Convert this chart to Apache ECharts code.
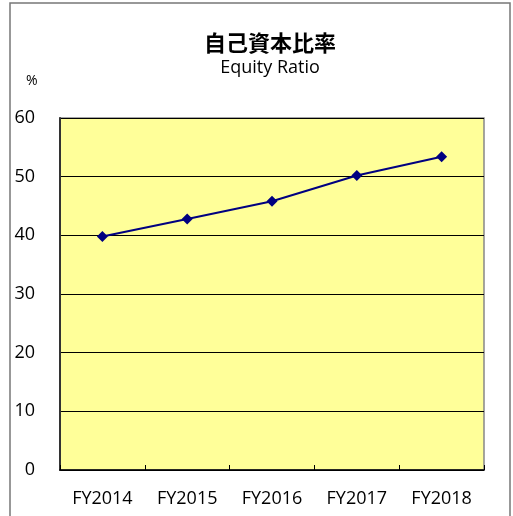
<!DOCTYPE html>
<html>
<head>
<meta charset="utf-8">
<script src="https://cdn.jsdelivr.net/npm/echarts@6/dist/echarts.min.js"></script>
<title>自己資本比率</title>
<style>
  html, body { margin: 0; padding: 0; background: #fff; }
  #main { width: 513px; height: 516px; }
</style>
</head>
<body>
<div id="main"></div>
<script type="text/javascript">
// 年度と自己資本比率(%)
var years = ['FY2014', 'FY2015', 'FY2016', 'FY2017', 'FY2018'];
var equityRatio = [39.8, 42.8, 45.8, 50.2, 53.4];
var yTicks = [0, 10, 20, 30, 40, 50, 60];

var myChart = echarts.init(document.getElementById('main'));
var font = '"Open Sans", "Noto Sans", sans-serif';

var option = {
    animation: false,
    title: {
        text: '自己資本比率',
        subtext: 'Equity Ratio',
        left: 265,
        textAlign: 'center',
        top: 27,
        itemGap: 5,
        textStyle: { fontFamily: '"Noto Sans CJK JP", sans-serif', fontWeight: 'bold', fontSize: 22, color: '#000' },
        subtextStyle: { fontFamily: font, fontSize: 18, color: '#000' }
    },
    graphic: [
        { type: 'rect', shape: { x: 10, y: 3, width: 500, height: 520 }, style: { fill: null, stroke: '#777', lineWidth: 1.5 }, z: 0 },
        { type: 'text', left: 26, top: 74, style: { text: '%', fontSize: 14, fontFamily: font, fill: '#000' } }
    ],
    grid: { left: 60, right: 29, top: 118, bottom: 46, show: true, backgroundColor: '#FFFF99', borderColor: '#888', borderWidth: 1.5 },
    xAxis: {
        type: 'category',
        data: years,
        boundaryGap: true,
        axisLine: { lineStyle: { color: '#000', width: 1.5 } },
        axisTick: { show: true, inside: true, length: 5, lineStyle: { color: '#000' } },
        axisLabel: { color: '#000', fontSize: 18, fontFamily: font, margin: 20 }
    },
    yAxis: {
        type: 'value',
        min: yTicks[0],
        max: yTicks[yTicks.length - 1],
        interval: 10,
        axisLine: { show: true, lineStyle: { color: '#333', width: 2 } },
        axisTick: { show: false },
        splitLine: { lineStyle: { color: '#000', width: 1 } },
        axisLabel: { color: '#000', fontSize: 18, fontFamily: font, margin: 25 }
    },
    series: [{
        type: 'line',
        data: equityRatio,
        symbol: 'diamond',
        symbolSize: 11,
        lineStyle: { color: '#000080', width: 2 },
        itemStyle: { color: '#000080' }
    }]
};
myChart.setOption(option);
</script>
</body>
</html>
